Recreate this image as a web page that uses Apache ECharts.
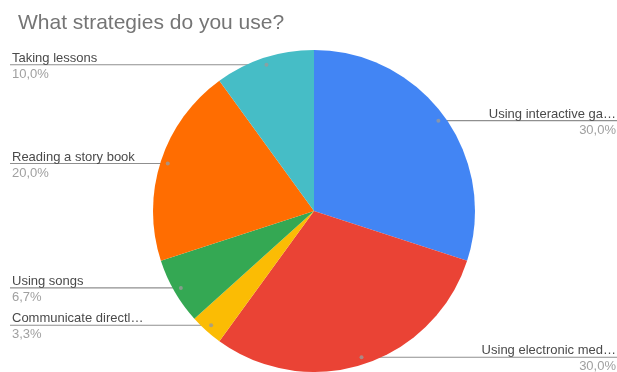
<!DOCTYPE html>
<html>
<head>
<meta charset="utf-8">
<script src="https://cdn.jsdelivr.net/npm/echarts@6/dist/echarts.min.js"></script>
<style>html,body{margin:0;padding:0;background:#fff}#c{width:617px;height:372px}</style>
</head>
<body>
<div id="c"></div>
<script>
const titleText = 'What strategies do you use?';
const categories = ['Using interactive ga\u2026', 'Using electronic med\u2026', 'Communicate directl\u2026', 'Using songs', 'Reading a story book', 'Taking lessons'];
const counts = [9, 9, 1, 2, 6, 3];
const colors = ['#4285F4', '#EA4335', '#FBBC04', '#34A853', '#FF6D01', '#46BDC6'];

const CX = 314, CY = 211, R = 161, DOT = 0.955;
const W = 617;
const total = counts.reduce((a, b) => a + b, 0);
const mids = [];
let cum = 0;
counts.forEach(v => { mids.push(cum + v / 2); cum += v; });

function pct(v) { return (v / total * 100).toFixed(1).replace('.', ',') + '%'; }

const chart = echarts.init(document.getElementById('c'), null, {renderer: 'canvas'});
chart.setOption({
  animation: false,
  title: {
    text: titleText, left: 13, top: 8,
    textStyle: {fontFamily: 'Liberation Sans, Arial', fontSize: 21, fontWeight: 'normal', color: '#757575'}
  },
  polar: {center: [CX, CY], radius: R},
  angleAxis: {type: 'value', min: 0, max: total, startAngle: 90, clockwise: true, show: false},
  radiusAxis: {type: 'value', min: 0, max: 1, show: false},
  series: [{
    type: 'pie',
    center: [CX, CY],
    radius: R,
    startAngle: 90,
    clockwise: true,
    avoidLabelOverlap: false,
    data: categories.map((n, i) => ({name: n, value: counts[i], itemStyle: {color: colors[i]}})),
    label: {
      show: true,
      position: 'outside',
      formatter: p => '{n|' + p.name + '}\n{p|' + pct(p.value) + '}',
      rich: {
        n: {fontFamily: 'Liberation Sans, Arial', fontSize: 13, color: '#4a4a4a', lineHeight: 17},
        p: {fontFamily: 'Liberation Sans, Arial', fontSize: 13, color: '#a0a0a0', lineHeight: 15}
      }
    },
    labelLine: {show: true, lineStyle: {color: '#8f8f8f', width: 1.2}},
    labelLayout: function (params) {
      const i = params.dataIndex;
      const ang = (90 - 360 * mids[i] / total) * Math.PI / 180;
      const dx = CX + R * DOT * Math.cos(ang);
      const dy = CY - R * DOT * Math.sin(ang);
      const left = dx < CX;
      return {
        x: left ? 12 : W - 1,
        y: dy + 1,
        align: left ? 'left' : 'right',
        verticalAlign: 'middle',
        labelLinePoints: left ? [[dx, dy], [11, dy], [10, dy]] : [[dx, dy], [W - 1, dy], [W, dy]]
      };
    },
    z: 2
  }, {
    type: 'scatter',
    coordinateSystem: 'polar',
    symbolSize: 4,
    itemStyle: {color: '#9a9a9a'},
    data: mids.map(m => [DOT, m]),
    silent: true,
    z: 5
  }]
});
</script>
</body>
</html>
